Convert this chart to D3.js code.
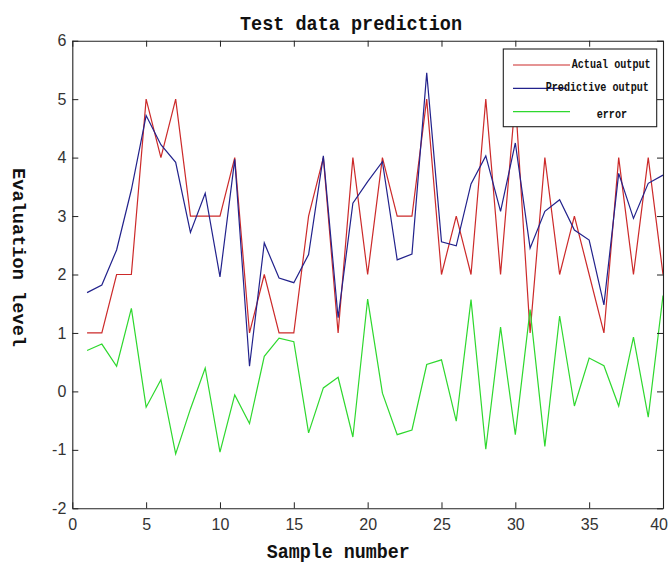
<!DOCTYPE html>
<html>
<head>
<meta charset="utf-8">
<script src="https://cdn.jsdelivr.net/npm/d3@7"></script>
<style>
  html, body { margin: 0; padding: 0; background: #fff; }
  svg { display: block; }
</style>
</head>
<body>
<svg id="chart" width="668" height="563"></svg>
<script>
// ---- data ----
const samples = d3.range(1, 41);
const actual = [1,1,2,2,5,4,5,3,3,3,4,1,2,1,1,3,4,1,4,2,4,3,3,5,2,3,2,5,2,5,1,4,2,3,2,1,4,2,4,2];
const predicted = [1.69,1.82,2.42,3.45,4.72,4.22,3.92,2.72,3.39,1.96,3.97,0.43,2.54,1.94,1.86,2.34,4.03,1.26,3.22,3.59,3.93,2.25,2.35,5.45,2.56,2.49,3.55,4.03,3.08,4.25,2.45,3.08,3.28,2.76,2.59,1.48,3.73,2.96,3.56,3.70];
const errorVals = [0.70,0.81,0.43,1.42,-0.27,0.20,-1.07,-0.30,0.40,-1.04,-0.06,-0.55,0.60,0.91,0.85,-0.71,0.06,0.24,-0.78,1.58,-0.03,-0.74,-0.66,0.46,0.54,-0.51,1.57,-0.99,1.10,-0.74,1.40,-0.94,1.29,-0.25,0.57,0.44,-0.25,0.93,-0.44,1.64];
const seriesNames = ["Actual output", "Predictive output", "error"];
const xTicks = [0,5,10,15,20,25,30,35,40];
const yTicks = [-2,-1,0,1,2,3,4,5,6];

const colors = ["#cc2a2a", "#22228c", "#2ed82e"];

// ---- layout ----
const svg = d3.select("#chart");
const L = 72.3, R = 663, T = 40.7, B = 508.3;
const x = d3.scaleLinear().domain([0, 40]).range([L, R]);
const y = d3.scaleLinear().domain([-2, 6]).range([B, T]);

svg.append("rect").attr("x", 0).attr("y", 0).attr("width", 668).attr("height", 563).attr("fill", "#fff");

// series lines
const series = [actual, predicted, errorVals];
const line = d3.line().x((d, i) => x(samples[i])).y(d => y(d));
series.forEach((s, k) => {
  svg.append("path")
    .datum(s)
    .attr("d", line)
    .attr("fill", "none")
    .attr("stroke", colors[k])
    .attr("stroke-width", 1.2)
    .attr("stroke-linejoin", "miter");
});

// axes (inward ticks on all four sides)
const axisColor = "#222";
const tickFont = "'Liberation Sans', Arial, sans-serif";
const fmt = d => String(d);
function styleAxis(g) {
  g.select(".domain").attr("stroke", axisColor).attr("stroke-width", 1.1);
  g.selectAll(".tick line").attr("stroke", axisColor).attr("stroke-width", 1);
  g.selectAll(".tick text").attr("fill", "#333").style("font-family", tickFont).style("font-size", "16px");
}
const xAxisG = svg.append("g").attr("transform", `translate(0,${B})`)
  .call(d3.axisBottom(x).tickValues(xTicks).tickSizeInner(-6).tickSizeOuter(0).tickPadding(10).tickFormat(fmt))
  .call(styleAxis);
// keep the last label inside the canvas edge
xAxisG.selectAll(".tick text").filter(d => d === xTicks[xTicks.length - 1])
  .attr("text-anchor", "end").attr("x", 668 - 0.5 - R);

svg.append("g").attr("transform", `translate(0,${T})`)
  .call(d3.axisTop(x).tickValues(xTicks).tickSizeInner(-6).tickSizeOuter(0).tickFormat(""))
  .call(styleAxis);
svg.append("g").attr("transform", `translate(${L},0)`)
  .call(d3.axisLeft(y).tickValues(yTicks).tickSizeInner(-6).tickSizeOuter(0).tickPadding(6).tickFormat(fmt))
  .call(styleAxis);
svg.append("g").attr("transform", `translate(${R},0)`)
  .call(d3.axisRight(y).tickValues(yTicks).tickSizeInner(-6).tickSizeOuter(0).tickFormat(""))
  .call(styleAxis);

// titles
const monoFont = "'Liberation Mono', 'DejaVu Sans Mono', monospace";
svg.append("text")
  .attr("x", 351).attr("y", 30)
  .attr("text-anchor", "middle")
  .attr("textLength", 222).attr("lengthAdjust", "spacingAndGlyphs")
  .style("font-family", monoFont).style("font-size", "21px").style("font-weight", "bold")
  .attr("fill", "#111")
  .text("Test data prediction");

svg.append("text")
  .attr("x", 338.3).attr("y", 558)
  .attr("text-anchor", "middle")
  .attr("textLength", 143).attr("lengthAdjust", "spacingAndGlyphs")
  .style("font-family", monoFont).style("font-size", "20px").style("font-weight", "bold")
  .attr("fill", "#111")
  .text("Sample number");

svg.append("text")
  .attr("transform", "translate(12.5,257.5) rotate(90)")
  .attr("text-anchor", "middle")
  .attr("textLength", 179).attr("lengthAdjust", "spacingAndGlyphs")
  .style("font-family", monoFont).style("font-size", "18px").style("font-weight", "bold")
  .attr("fill", "#111")
  .text("Evaluation level");

// legend
const lg = svg.append("g");
lg.append("rect")
  .attr("x", 503.3).attr("y", 49).attr("width", 153.4).attr("height", 77.7)
  .attr("fill", "#fff").attr("stroke", "#222").attr("stroke-width", 1.1);
const legendRows = [
  { lineY: 65, x1: 513, x2: 570, textX: 571.7, textY: 67.7 },
  { lineY: 88.3, x1: 513, x2: 566.7, textX: 545.7, textY: 91 },
  { lineY: 111.7, x1: 513, x2: 570, textX: 596.7, textY: 118.3 }
];
seriesNames.forEach((name, k) => {
  const r = legendRows[k];
  lg.append("line")
    .attr("x1", r.x1).attr("x2", r.x2).attr("y1", r.lineY).attr("y2", r.lineY)
    .attr("stroke", colors[k]).attr("stroke-width", 1.2);
  lg.append("text")
    .attr("transform", `translate(${r.textX},${r.textY}) scale(0.75,1)`)
    .style("font-family", monoFont).style("font-size", "13.5px").style("font-weight", "bold")
    .attr("fill", "#111")
    .text(name);
});
</script>
</body>
</html>
